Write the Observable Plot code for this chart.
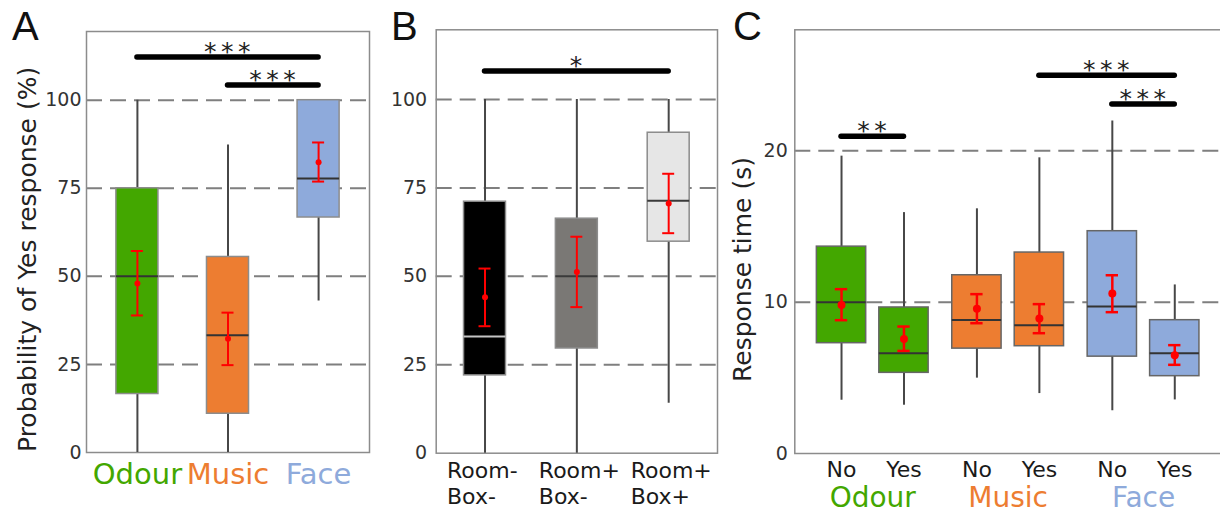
<!DOCTYPE html>
<html><head><meta charset="utf-8">
<script src="https://cdn.jsdelivr.net/npm/d3@7"></script>
<script src="https://cdn.jsdelivr.net/npm/@observablehq/plot@0.6"></script>
<style>
html,body{margin:0;padding:0;background:#fff;overflow:hidden;}
#root{position:relative;width:1220px;height:516px;overflow:hidden;font-family:"DejaVu Sans",sans-serif;background:#fff;}
.layer{position:absolute;top:0;}
</style></head>
<body><div id="root"></div>
<script>
// ---------- Panel A data ----------
const catsA = ["Odour", "Music", "Face"];
const q1A = [16.6, 11.0, 66.7];
const medianA = [50, 33.3, 77.8];
const q3A = [75, 55.5, 100];
const whiskerLoA = [0, 0, 43];
const whiskerHiA = [100, 87.3, 100];
const meanA = [48, 32.3, 82.4];
const ciLoA = [38.9, 24.8, 76.9];
const ciHiA = [57.2, 39.7, 88];
const ticksA = [0, 25, 50, 75, 100];
const gridA = [25, 50, 75, 100];
const sigFromA = ["Odour", "Music"];
const sigToA = ["Face", "Face"];
const sigLevelA = [112.1, 104.2];
const sigLabelA = ["***", "***"];

// ---------- Panel B data ----------
const catsB = ["Room-\nBox-", "Room+\nBox-", "Room+\nBox+"];
const q1B = [22, 29.6, 59.8];
const medianB = [33, 50, 71.4];
const q3B = [71.1, 66.3, 90.6];
const whiskerLoB = [0, 0, 14.1];
const whiskerHiB = [100, 100, 100];
const meanB = [44.1, 51.2, 70.6];
const ciLoB = [35.9, 41.3, 62.2];
const ciHiB = [52.2, 61.2, 79];
const ticksB = [0, 25, 50, 75, 100];
const gridB = [25, 50, 75, 100];
const sigFromB = ["Room-\nBox-"];
const sigToB = ["Room+\nBox+"];
const sigLevelB = [107.9];
const sigLabelB = ["*"];

// ---------- Panel C data ----------
const stimuliC = ["Odour", "Music", "Face"];
const groupC = ["Odour", "Odour", "Music", "Music", "Face", "Face"];
const answerC = ["No", "Yes", "No", "Yes", "No", "Yes"];
const q1C = [7.29, 5.33, 6.93, 7.09, 6.40, 5.11];
const medianC = [10.0, 6.63, 8.83, 8.48, 9.71, 6.63];
const q3C = [13.67, 9.65, 11.78, 13.28, 14.69, 8.81];
const whiskerLoC = [3.52, 3.19, 4.98, 3.96, 2.82, 3.54];
const whiskerHiC = [19.65, 15.92, 16.17, 19.54, 21.98, 11.14];
const meanC = [9.82, 7.57, 9.56, 8.92, 10.57, 6.50];
const ciLoC = [8.81, 6.78, 8.61, 7.95, 9.34, 5.86];
const ciHiC = [10.86, 8.39, 10.53, 9.87, 11.78, 7.16];
const ticksC = [0, 10, 20];
const gridC = [10, 20];
const sigFromGroupC = ["Odour", "Music", "Face"];
const sigFromAnswerC = ["No", "Yes", "No"];
const sigToGroupC = ["Odour", "Face", "Face"];
const sigToAnswerC = ["Yes", "Yes", "Yes"];
const sigLevelC = [20.93, 24.96, 23.06];
const sigLabelC = ["**", "***", "***"];

// ---------- styles ----------
const stimColor = {Odour: "#43a700", Music: "#ed7d31", Face: "#8eaadb"};
const roomFill = ["#000000", "#7a7875", "#e6e6e6"];
const roomMedian = ["#c4c4c4", "#3a3a3a", "#3a3a3a"];
const FONT = "DejaVu Sans";
const plotStyle = {background: "transparent", maxWidth: "none", fontFamily: FONT, overflow: "visible"};

const tableA = catsA.map((cat, i) => ({cat, q1: q1A[i], med: medianA[i], q3: q3A[i], lo: whiskerLoA[i], hi: whiskerHiA[i], mean: meanA[i], ciLo: ciLoA[i], ciHi: ciHiA[i]}));
const tableB = catsB.map((cat, i) => ({cat, idx: i, q1: q1B[i], med: medianB[i], q3: q3B[i], lo: whiskerLoB[i], hi: whiskerHiB[i], mean: meanB[i], ciLo: ciLoB[i], ciHi: ciHiB[i]}));
const tableC = groupC.map((g, i) => ({g, a: answerC[i], q1: q1C[i], med: medianC[i], q3: q3C[i], lo: whiskerLoC[i], hi: whiskerHiC[i], mean: meanC[i], ciLo: ciLoC[i], ciHi: ciHiC[i]}));

function boxMarks(table, o) {
  const f = o.facet ? {fx: "g"} : {};
  const x = o.x;
  return [
    Plot.ruleX(table, {...f, x, y1: "lo", y2: "hi", stroke: "#474747", strokeWidth: 2}),
    Plot.barY(table, {...f, x, y1: "q1", y2: "q3", fill: o.fill, stroke: o.boxStroke, strokeWidth: 1.5}),
    Plot.tickY(table, {...f, x, y: "med", stroke: o.medStroke, strokeWidth: 2}),
    Plot.ruleX(table, {...f, x, y1: "ciLo", y2: "ciHi", stroke: "#ff0000", strokeWidth: o.errW}),
    Plot.tickY(table, {...f, x, y: "ciLo", stroke: "#ff0000", strokeWidth: o.errW, insetLeft: o.capInset, insetRight: o.capInset}),
    Plot.tickY(table, {...f, x, y: "ciHi", stroke: "#ff0000", strokeWidth: o.errW, insetLeft: o.capInset, insetRight: o.capInset}),
    Plot.dot(table, {...f, x, y: "mean", r: o.dotR, fill: "#ff0000"})
  ];
}

function drawSigs(plot, sigs, faceted) {
  const xs = plot.scale("x"), ys = plot.scale("y");
  const fxs = faceted ? plot.scale("fx") : null;
  const X = (g, a) => (fxs ? fxs.apply(g) - xs.range[0] : 0) + xs.apply(a) + xs.bandwidth / 2;
  const layer = d3.select(plot).append("g").attr("class", "significance");
  sigs.forEach(s => {
    const x1 = X(s.g1, s.a1), x2 = X(s.g2, s.a2), y = ys.apply(s.level);
    layer.append("line").attr("x1", x1).attr("x2", x2).attr("y1", y).attr("y2", y)
      .attr("stroke", "#000").attr("stroke-width", 5.5).attr("stroke-linecap", "round");
    layer.append("text").attr("x", (x1 + x2) / 2 + 2).attr("y", y + 3)
      .attr("text-anchor", "middle").attr("font-family", FONT).attr("font-size", 25)
      .attr("letter-spacing", "4.5px").attr("fill", "#222").text(s.label);
  });
}

function place(node, left) {
  const d = document.createElement("div");
  d.className = "layer";
  d.style.left = left + "px";
  d.appendChild(node);
  document.getElementById("root").appendChild(d);
}

// ---------- annotation layer (panel letters, y titles) ----------
const ann = d3.select("#root").append("svg").attr("width", 1220).attr("height", 516)
  .style("position", "absolute").style("left", 0).style("top", 0);
[["A", 12], ["B", 391], ["C", 733]].forEach(([t, x]) => {
  ann.append("text").attr("x", x).attr("y", 40).attr("font-family", "Liberation Sans").attr("font-size", 40).attr("fill", "#111").text(t);
});
ann.append("text").attr("transform", "translate(36,452) rotate(-90)").attr("text-anchor", "start")
  .attr("font-family", FONT).attr("font-size", 25).attr("fill", "#222").text("Probability of Yes response (%)");
ann.append("text").attr("transform", "translate(751,382) rotate(-90)").attr("text-anchor", "start")
  .attr("font-family", FONT).attr("font-size", 25).attr("fill", "#222").text("Response time (s)");

// ---------- Panel A ----------
const plotA = Plot.plot({
  width: 380, height: 516, marginLeft: 86, marginRight: 11, marginTop: 31, marginBottom: 64,
  style: plotStyle,
  x: {type: "band", domain: catsA, paddingInner: 0.536, paddingOuter: 0.33, round: false, axis: null, label: null},
  y: {domain: [0, 119.5], axis: null, label: null},
  color: {type: "identity"},
  marks: [
    Plot.ruleY(gridA, {stroke: "#7f7f7f", strokeWidth: 2, strokeDasharray: "16,8"}),
    Plot.frame({stroke: "#8c8c8c", strokeWidth: 1.5}),
    Plot.axisY(ticksA, {tickSize: 0, tickPadding: 5, fontSize: 19, color: "#333", label: null}),
    ...boxMarks(tableA, {x: "cat", fill: d => stimColor[d.cat], boxStroke: "#8c8c8c", medStroke: "#333", errW: 2, capInset: 15, dotR: 3}),
    Plot.text(catsA, {x: d => d, text: d => d, fill: d => stimColor[d], frameAnchor: "bottom", lineAnchor: "bottom", dy: 31, fontSize: 29})
  ]
});
place(plotA, 0);
drawSigs(plotA, sigFromA.map((f, i) => ({a1: f, a2: sigToA[i], level: sigLevelA[i], label: sigLabelA[i]})), false);

// ---------- Panel B ----------
const plotB = Plot.plot({
  width: 338, height: 516, marginLeft: 55.7, marginRight: 1, marginTop: 29.3, marginBottom: 63.3,
  style: plotStyle,
  x: {type: "band", domain: catsB, paddingInner: 0.543, paddingOuter: 0.303, round: false, axis: null, label: null},
  y: {domain: [0, 119.7], axis: null, label: null},
  color: {type: "identity"},
  marks: [
    Plot.ruleY(gridB, {stroke: "#7f7f7f", strokeWidth: 2, strokeDasharray: "16,8"}),
    Plot.frame({stroke: "#8c8c8c", strokeWidth: 1.5}),
    Plot.axisY(ticksB, {tickSize: 0, tickPadding: 9, fontSize: 19, color: "#333", label: null}),
    ...boxMarks(tableB, {x: "cat", fill: d => roomFill[d.idx], boxStroke: "#8c8c8c", medStroke: d => roomMedian[d.idx], errW: 2, capInset: 15, dotR: 3}),
    Plot.axisX({tickSize: 0, tickPadding: 6, fontSize: 22, color: "#1a1a1a", textAnchor: "start", dx: -38, lineHeight: 1.18, label: null})
  ]
});
place(plotB, 380);
drawSigs(plotB, sigFromB.map((f, i) => ({a1: f, a2: sigToB[i], level: sigLevelB[i], label: sigLabelB[i]})), false);

// ---------- Panel C (frame/grid layer + faceted box layer) ----------
const dimsC = {width: 506, height: 516, marginLeft: 76.3, marginRight: 3, marginTop: 29.3, marginBottom: 63};
const plotCbase = Plot.plot({
  ...dimsC, style: plotStyle,
  y: {domain: [0, 28], axis: null, label: null},
  marks: [
    Plot.ruleY(gridC, {stroke: "#7f7f7f", strokeWidth: 2, strokeDasharray: "16,8"}),
    Plot.frame({stroke: "#8c8c8c", strokeWidth: 1.5}),
    Plot.axisY(ticksC, {tickSize: 0, tickPadding: 7, fontSize: 19, color: "#333", label: null})
  ]
});
place(plotCbase, 718);
const plotC = Plot.plot({
  ...dimsC, style: plotStyle,
  fx: {domain: stimuliC, paddingInner: 0, paddingOuter: 0.0757, round: false, axis: null, label: null},
  x: {type: "band", domain: ["No", "Yes"], paddingInner: 0.21, paddingOuter: 0.189, round: false, axis: null, label: null},
  y: {domain: [0, 28], axis: null, label: null},
  color: {type: "identity"},
  marks: [
    ...boxMarks(tableC, {facet: true, x: "a", fill: d => stimColor[d.g], boxStroke: "#666", medStroke: "#333", errW: 2.5, capInset: 18.5, dotR: 4}),
    Plot.axisX({tickSize: 0, tickPadding: 8, fontSize: 22, color: "#1a1a1a", label: null}),
    Plot.text(stimuliC, {fx: d => d, text: d => d, fill: d => stimColor[d], frameAnchor: "bottom", lineAnchor: "bottom", dy: 53, fontSize: 28})
  ]
});
place(plotC, 718);
drawSigs(plotC, sigFromGroupC.map((g, i) => ({g1: g, a1: sigFromAnswerC[i], g2: sigToGroupC[i], a2: sigToAnswerC[i], level: sigLevelC[i], label: sigLabelC[i]})), true);
</script>
</body></html>
